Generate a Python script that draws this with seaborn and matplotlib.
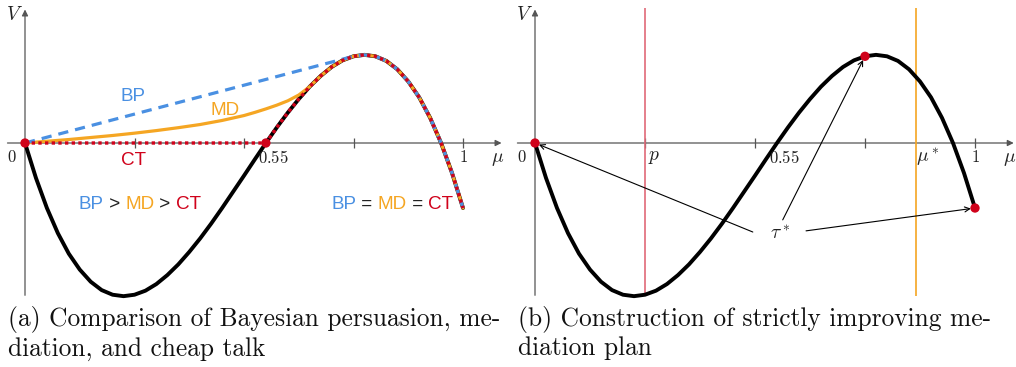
import numpy as np
import pandas as pd
import matplotlib
matplotlib.use("Agg")
import matplotlib.pyplot as plt
import seaborn as sns

# value function V(mu)
mu = [0.0, 0.025, 0.05, 0.075, 0.1, 0.125, 0.15, 0.175, 0.2, 0.225,
      0.25, 0.275, 0.3, 0.325, 0.35, 0.375, 0.4, 0.425, 0.45, 0.475,
      0.5, 0.525, 0.55, 0.575, 0.6, 0.625, 0.65, 0.675, 0.7, 0.725,
      0.75, 0.775, 0.8, 0.825, 0.85, 0.875, 0.9, 0.925, 0.95, 0.975, 1.0]
v_curve = [0.0, -0.121, -0.225, -0.312, -0.383, -0.438, -0.480, -0.509, -0.525, -0.530,
           -0.525, -0.511, -0.488, -0.457, -0.420, -0.377, -0.330, -0.279, -0.225, -0.169,
           -0.113, -0.056, 0.0, 0.054, 0.105, 0.152, 0.195, 0.232, 0.263, 0.286,
           0.300, 0.305, 0.300, 0.284, 0.255, 0.213, 0.158, 0.087, 0.0, -0.104, -0.225]

# panel (a)
bp_tangent = 0.75
md_mu = [0.0, 0.05, 0.1, 0.15, 0.2, 0.25, 0.3, 0.35, 0.4, 0.45, 0.5, 0.525, 0.55, 0.575, 0.6, 0.625]
md_v = [0.0, 0.006, 0.012, 0.019, 0.026, 0.034, 0.043, 0.053, 0.064, 0.078, 0.095, 0.106, 0.118, 0.131, 0.146, 0.166]
md_join = 0.65
ct_zero = 0.55
a_dots_mu = [0.0, 0.55]
a_dots_v = [0.0, 0.0]

# panel (b)
p_val = 0.25
mu_star = 0.865
tau_mu = [0.0, 0.75, 1.0]
tau_v = [0.0, 0.30, -0.225]
tau_label = (0.557, -0.318)
tau_tails = [(0.495, -0.308), (0.563, -0.266), (0.616, -0.304)]

captions = ["(a) Comparison of Bayesian persuasion, me-\ndiation, and cheap talk",
            "(b) Construction of strictly improving me-\ndiation plan"]

BLUE, ORANGE, RED = "#4a90e2", "#f5a623", "#d0021b"
GREY = "#555555"

sns.set_theme(style="white")
plt.rcParams["mathtext.fontset"] = "cm"
plt.rcParams["font.family"] = ["Liberation Sans", "DejaVu Sans"]

W, H = 1016, 367
fig = plt.figure(figsize=(W / 100, H / 100), dpi=100)

curve = pd.DataFrame({"mu": mu, "V": v_curve})


def make_axes(left_px, zero_px, xscale):
    ax = fig.add_axes([left_px / W, (H - 300) / H, 505 / W, 300 / H])
    off = zero_px - left_px
    ax.set_xlim(-off / xscale, (505 - off) / xscale)
    ax.set_ylim(-(300 - 143) / 289, 143 / 289)
    ax.axis("off")
    # axes with arrow heads, kept underneath the curves
    ax.annotate("", xy=(1.088, 0), xytext=(-0.04, 0), zorder=1,
                arrowprops=dict(arrowstyle="-|>", color=GREY, lw=0.9, mutation_scale=9, shrinkA=0, shrinkB=0))
    ax.annotate("", xy=(0, 0.462), xytext=(0, -0.527), zorder=1,
                arrowprops=dict(arrowstyle="-|>", color=GREY, lw=0.9, mutation_scale=9, shrinkA=0, shrinkB=0))
    ax.vlines([0.25, 0.5, 0.75, 1.0], -0.017, 0.017, color=GREY, lw=0.9, zorder=1)
    ax.text(-0.025, 0.443, "$V$", fontsize=14, ha="center", va="center", color="#222222")
    ax.text(1.078, -0.058, r"$\mu$", fontsize=14, ha="center", va="center", color="#222222")
    ax.text(-0.03, -0.05, "$0$", fontsize=12, ha="center", va="center", color="#222222")
    ax.text(1.0, -0.05, "$1$", fontsize=12, ha="center", va="center", color="#222222")
    ax.text(0.567, -0.05, "$0.55$", fontsize=12, ha="center", va="center", color="#222222")
    return ax


# ---- panel (a)
ax1 = make_axes(0, 25, 438)
sns.lineplot(data=curve, x="mu", y="V", ax=ax1, color="black", lw=2.8, sort=False, estimator=None)

tail = curve[curve["mu"] >= md_join]
md = pd.concat([pd.DataFrame({"mu": md_mu, "V": md_v}), tail])
sns.lineplot(data=md, x="mu", y="V", ax=ax1, color=ORANGE, lw=2.3, sort=False, estimator=None)

bp = pd.concat([pd.DataFrame({"mu": [0.0], "V": [0.0]}), curve[curve["mu"] >= bp_tangent]])
sns.lineplot(data=bp, x="mu", y="V", ax=ax1, color=BLUE, lw=2.3, sort=False, estimator=None,
             linestyle=(0, (3.2, 2.2)))

ct = pd.concat([pd.DataFrame({"mu": [0.0], "V": [0.0]}), curve[curve["mu"] >= ct_zero]])
sns.lineplot(data=ct, x="mu", y="V", ax=ax1, color=RED, lw=2.4, sort=False, estimator=None,
             linestyle=(0, (1.0, 1.0)), dash_capstyle="butt")

sns.scatterplot(x=a_dots_mu, y=a_dots_v, ax=ax1, color=RED, s=45, edgecolor="none", zorder=5)

ax1.text(0.247, 0.16, "BP", color=BLUE, fontsize=13.6, ha="center", va="center")
ax1.text(0.457, 0.114, "MD", color=ORANGE, fontsize=13.6, ha="center", va="center")
ax1.text(0.247, -0.062, "CT", color=RED, fontsize=13.6, ha="center", va="center")


def colored_row(ax, xc, y, parts):
    # draw a row of colored words centered at xc
    texts = []
    renderer = fig.canvas.get_renderer()
    widths = []
    for s, c in parts:
        t = ax.text(0, y, s, color=c, fontsize=13.6, va="center", ha="left")
        texts.append(t)
        widths.append(t.get_window_extent(renderer).width)
    total = sum(widths)
    x0_px = ax.transData.transform((xc, y))[0] - total / 2
    inv = ax.transData.inverted()
    for t, w in zip(texts, widths):
        t.set_x(inv.transform((x0_px, 0))[0])
        x0_px += w


colored_row(ax1, 0.262, -0.212, [("BP", BLUE), (" > ", "#222222"), ("MD", ORANGE), (" > ", "#222222"), ("CT", RED)])
colored_row(ax1, 0.838, -0.212, [("BP", BLUE), (" = ", "#222222"), ("MD", ORANGE), (" = ", "#222222"), ("CT", RED)])

# ---- panel (b)
ax2 = make_axes(510, 535, 440)
ax2.vlines([p_val], -0.53, 0.467, color="#e06a78", lw=1.2, zorder=1)
ax2.vlines([mu_star], -0.53, 0.467, color=ORANGE, lw=1.2, zorder=1)
sns.lineplot(data=curve, x="mu", y="V", ax=ax2, color="black", lw=2.8, sort=False, estimator=None)
sns.scatterplot(x=tau_mu, y=tau_v, ax=ax2, color=RED, s=45, edgecolor="none", zorder=5)
ax2.text(p_val + 0.02, -0.05, "$p$", fontsize=14, ha="center", va="center", color="#222222")
ax2.text(mu_star + 0.028, -0.05, r"$\mu^*$", fontsize=14, ha="center", va="center", color="#222222")
ax2.text(tau_label[0], tau_label[1], r"$\tau^*$", fontsize=14, ha="center", va="center", color="#222222")
for (tx, ty), hx, hy in zip(tau_tails, tau_mu, tau_v):
    ax2.annotate("", xy=(hx, hy), xytext=(tx, ty),
                 arrowprops=dict(arrowstyle="->", color="black", lw=0.8, shrinkA=0, shrinkB=3,
                                 mutation_scale=9))

# captions
for x_px, cap in zip([8, 518], captions):
    fig.text(x_px / W, 1 - 306 / H, cap, family="cmr10", fontsize=18.3, ha="left", va="top",
             linespacing=1.2, color="#111111")

fig.savefig("out.png", dpi=100)
